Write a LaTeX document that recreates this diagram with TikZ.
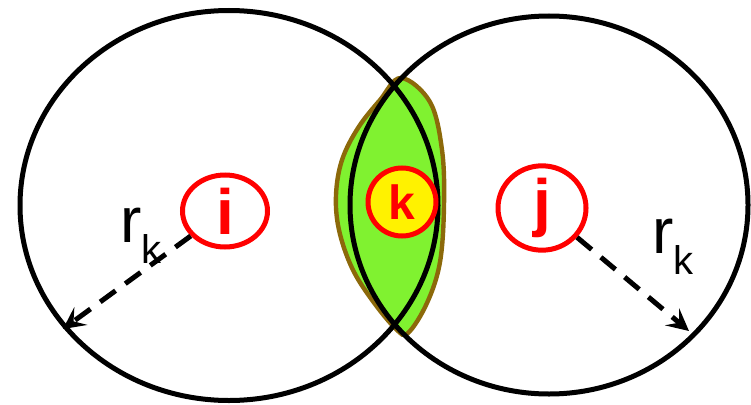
\documentclass[tikz,border=0pt]{standalone}
\usepackage{fontspec}
\setmainfont{Liberation Sans}
\usetikzlibrary{shapes.geometric,arrows.meta}
\definecolor{lensgreen}{RGB}{128,242,48}
\definecolor{lensbrown}{RGB}{140,105,10}
\tikzset{
  site/.style={ellipse,draw=red,line width=5pt,text=red,inner sep=0pt,
    font=\bfseries\fontsize{64}{64}\selectfont},
  radius arrow/.style={line width=5pt,dash pattern=on 19pt off 12pt,
    -{Stealth[length=22pt,width=22pt,inset=9pt]}},
  rlabel/.style={inner sep=0pt,anchor=base west,font=\fontsize{64}{64}\selectfont}
}
\begin{document}
\begin{tikzpicture}[x=1pt,y=-1pt,line width=5pt]
  \path[use as bounding box] (0,0) rectangle (751,404);

  % overlap region
  \draw[lensbrown,line width=4.4pt,fill=lensgreen] plot[smooth cycle,tension=0.6] coordinates {
    (401,78) (430,102) (442,150) (444,205) (440,262) (427,303) (408,333)
    (396,329) (372,300) (352,268) (339,230) (336,195) (342,160) (358,128) (380,100)};

  % the two ranges
  \draw (229,205.5) ellipse [x radius=209,y radius=195];
  \draw (549,205) ellipse [x radius=199,y radius=189];

  \node[site,minimum width=85pt,minimum height=72pt] (i) at (225,211) {i};
  \node[site,minimum width=88pt,minimum height=74pt] (j) at (542,208) {j};
  \node[site,circle,fill=yellow,minimum size=68pt,
        font=\bfseries\fontsize{48}{48}\selectfont] (k) at (402,202) {k};

  \coordinate (tipL) at (63,329);
  \coordinate (tipR) at (689,331);
  \draw[radius arrow] (i) -- (tipL);
  \draw[radius arrow] (j) -- (tipR);

  \node[rlabel] (rl) at (118,242)
    {r\raisebox{-0.33em}{\fontsize{40}{40}\selectfont k}};
  \node[rlabel] (rr) at (650,253)
    {r\raisebox{-0.33em}{\fontsize{40}{40}\selectfont k}};
\end{tikzpicture}
\end{document}
